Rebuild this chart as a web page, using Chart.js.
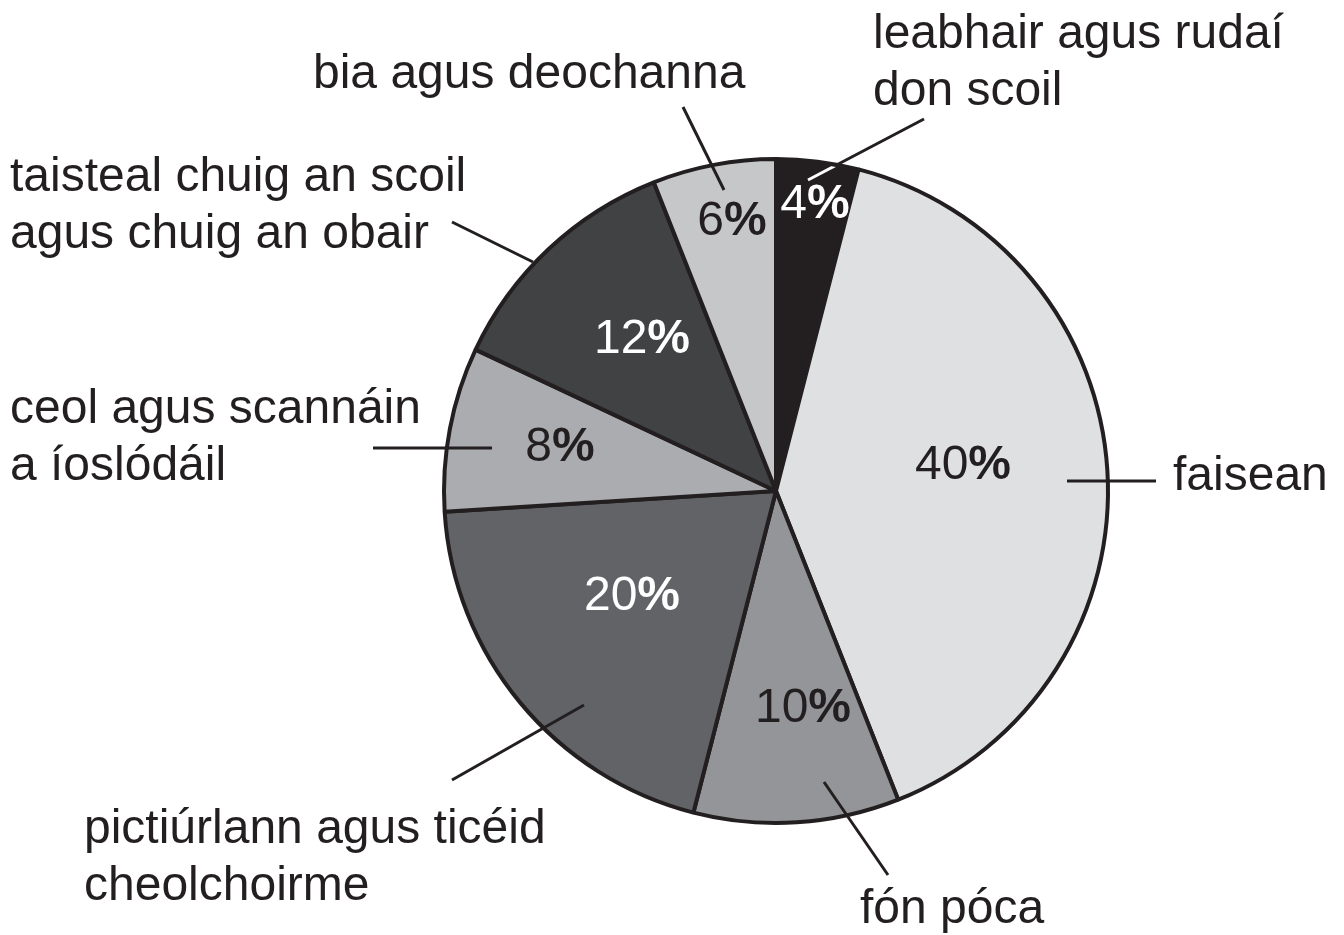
<!DOCTYPE html>
<html><head><meta charset="utf-8">
<script src="https://cdn.jsdelivr.net/npm/chart.js@4/dist/chart.umd.min.js"></script>
<style>html,body{margin:0;padding:0;background:#fff;overflow:hidden}</style>
</head><body>
<canvas id="c" width="1344" height="935"></canvas>
<script>
const categories = [
  ["leabhair agus rudaí", "don scoil"],
  ["faisean"],
  ["fón póca"],
  ["pictiúrlann agus ticéid", "cheolchoirme"],
  ["ceol agus scannáin", "a íoslódáil"],
  ["taisteal chuig an scoil", "agus chuig an obair"],
  ["bia agus deochanna"]
];
const values = [4, 40, 10, 20, 8, 12, 6];
const sliceColors = ["#231f20", "#dfe0e2", "#939598", "#626366", "#abacaf", "#414244", "#c6c7c9"];
const pctColors = ["#ffffff", "#231f20", "#231f20", "#ffffff", "#231f20", "#ffffff", "#231f20"];

// label layout (relative to pie center)
const pctPos = [[39,-286],[187,-25],[27,218],[-144,106],[-216,-43],[-134,-151],[-44,-269]];
const leaders = [
  [[32,-311],[148,-372]],
  [[291,-10],[380,-10]],
  [[48,291],[112,384]],
  [[-192,214],[-324,289]],
  [[-284,-43],[-403,-43]],
  [[-243,-229],[-324,-269]],
  [[-52,-301],[-93,-384]]
];
const labelPos = [[873,35,"left"],[1173,477,"left"],[860,910,"left"],[84,830,"left"],[10,410,"left"],[10,178,"left"],[313,75,"left"]];
const FONT = '"Liberation Sans", Arial, Helvetica, sans-serif';
const INK = "#231f20";

const annot = {
  id: 'annot',
  afterDraw(chart) {
    const ctx = chart.ctx;
    const meta = chart.getDatasetMeta(0);
    const a0 = meta.data[0];
    const cx = a0.x, cy = a0.y, r = a0.outerRadius;
    ctx.save();
    ctx.lineWidth = 3;
    ctx.lineCap = 'butt';
    leaders.forEach((seg, i) => {
      ctx.strokeStyle = INK;
      ctx.beginPath();
      ctx.moveTo(cx + seg[0][0], cy + seg[0][1]);
      ctx.lineTo(cx + seg[1][0], cy + seg[1][1]);
      ctx.stroke();
      if (i === 0) {
        ctx.save();
        ctx.beginPath();
        ctx.arc(cx, cy, r - 2.5, 0, Math.PI * 2);
        ctx.clip();
        ctx.strokeStyle = "#ffffff";
        ctx.beginPath();
        ctx.moveTo(cx + seg[0][0], cy + seg[0][1]);
        ctx.lineTo(cx + seg[1][0], cy + seg[1][1]);
        ctx.stroke();
        ctx.restore();
      }
    });
    ctx.textBaseline = 'middle';
    ctx.textAlign = 'left';
    values.forEach((v, i) => {
      const num = String(v);
      ctx.font = '48px ' + FONT;
      const w1 = ctx.measureText(num).width;
      ctx.font = 'bold 48px ' + FONT;
      const w2 = ctx.measureText('%').width;
      const x0 = cx + pctPos[i][0] - (w1 + w2) / 2;
      const y0 = cy + pctPos[i][1];
      ctx.fillStyle = pctColors[i];
      ctx.font = '48px ' + FONT;
      ctx.fillText(num, x0, y0);
      ctx.font = 'bold 48px ' + FONT;
      ctx.fillText('%', x0 + w1, y0);
    });
    ctx.font = '48px ' + FONT;
    ctx.fillStyle = INK;
    categories.forEach((lines, i) => {
      const p = labelPos[i];
      ctx.textAlign = p[2];
      lines.forEach((t, j) => ctx.fillText(t, p[0], p[1] + j * 57));
    });
    ctx.restore();
  }
};

new Chart(document.getElementById('c'), {
  type: 'pie',
  data: {
    labels: categories.map(l => l.join(' ')),
    datasets: [{
      data: values,
      backgroundColor: sliceColors,
      borderColor: INK,
      borderWidth: 4
    }]
  },
  options: {
    responsive: false,
    animation: false,
    events: [],
    radius: 332,
    layout: { padding: { left: 208, right: 0, top: 47, bottom: 0 } },
    plugins: { legend: { display: false }, tooltip: { enabled: false } }
  },
  plugins: [annot]
});
</script>
</body></html>
